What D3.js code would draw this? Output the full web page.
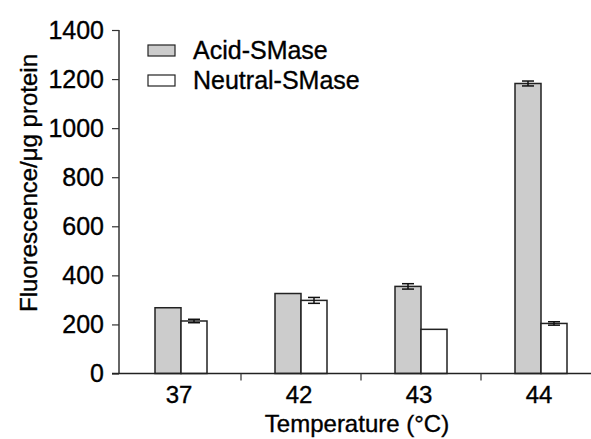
<!DOCTYPE html>
<html>
<head>
<meta charset="utf-8">
<script src="https://cdn.jsdelivr.net/npm/d3@7"></script>
<style>
	body { margin: 0; background: #fff; }
	text { font-family: "Liberation Sans", Arial, sans-serif; fill: #000; stroke: #000; stroke-width: 0.35px; }
</style>
</head>
<body>
<svg id="chart"></svg>
<script>
// Data
const temperatures = ["37", "42", "43", "44"];
const seriesNames = ["Acid-SMase", "Neutral-SMase"];
const acidValues = [268, 326, 355, 1182];
const acidErrors = [0, 0, 11, 10];
const neutralValues = [214, 298, 180, 204];
const neutralErrors = [7, 12, 0, 7];
const yTicks = [0, 200, 400, 600, 800, 1000, 1200, 1400];

const width = 591;
const height = 439;
const fills = ["#cccccc", "#ffffff"];

const svg = d3.select("#chart").attr("width", width).attr("height", height);

// Scales
const x = d3.scaleBand().domain(temperatures).range([121, 601]);
const y = d3.scaleLinear().domain([0, 1400]).range([373.5, 30]);
const barWidth = 26;

const series = [
	{ name: seriesNames[0], values: acidValues, errors: acidErrors, fill: fills[0] },
	{ name: seriesNames[1], values: neutralValues, errors: neutralErrors, fill: fills[1] },
];

// Bars
series.forEach((s, si) => {
	const bx = (i) => x(temperatures[i]) + x.bandwidth() / 2 - barWidth + si * barWidth;
	svg.append("g")
		.selectAll("rect")
		.data(s.values)
		.enter()
		.append("rect")
		.attr("x", (d, i) => bx(i))
		.attr("y", (d) => y(d))
		.attr("width", barWidth)
		.attr("height", (d) => y(0) - y(d))
		.attr("fill", s.fill)
		.attr("stroke", "#222")
		.attr("stroke-width", 1.5);

	// Error bars
	const eb = svg.append("g").attr("stroke", "#111").attr("stroke-width", 1.5);
	s.values.forEach((v, i) => {
		const e = s.errors[i];
		if (!e) return;
		const cx = bx(i) + barWidth / 2;
		eb.append("line").attr("x1", cx).attr("x2", cx).attr("y1", y(v + e)).attr("y2", y(v - e));
		[v + e, v - e].forEach((val) => {
			eb.append("line")
				.attr("x1", cx - 6).attr("x2", cx + 6)
				.attr("y1", y(val)).attr("y2", y(val));
		});
	});
});

// Y axis
const yAxis = svg.append("g")
	.attr("transform", "translate(119,0)")
	.call(d3.axisLeft(y).tickValues(yTicks).tickSize(7).tickPadding(8).tickFormat(d3.format("d")));
yAxis.select(".domain").attr("stroke", "#333").attr("stroke-width", 1.5).attr("d", `M0,${y(1400)}V${y(0)}`);
yAxis.selectAll(".tick line").attr("stroke", "#333").attr("stroke-width", 1.2);
yAxis.selectAll(".tick text").attr("font-size", 25).attr("font-family", "Liberation Sans, Arial, sans-serif");

// X axis line + boundary ticks
const xAxis = svg.append("g");
xAxis.append("line")
	.attr("x1", 112).attr("x2", width)
	.attr("y1", y(0)).attr("y2", y(0))
	.attr("stroke", "#222").attr("stroke-width", 1.5);
xAxis.selectAll("line.sep")
	.data(temperatures.slice(1))
	.enter()
	.append("line")
	.attr("class", "sep")
	.attr("x1", (d) => x(d)).attr("x2", (d) => x(d))
	.attr("y1", y(0)).attr("y2", y(0) + 7)
	.attr("stroke", "#333").attr("stroke-width", 1.2);
xAxis.selectAll("text")
	.data(temperatures)
	.enter()
	.append("text")
	.attr("x", (d) => x(d) + x.bandwidth() / 2 - 2)
	.attr("y", 403)
	.attr("text-anchor", "middle")
	.attr("font-size", 24)
	.text((d) => d);

// Axis titles
svg.append("text")
	.attr("x", 357)
	.attr("y", 432)
	.attr("text-anchor", "middle")
	.attr("font-size", 24)
	.text("Temperature (°C)");

svg.append("text")
	.attr("transform", "translate(37,183) rotate(-90)")
	.attr("text-anchor", "middle")
	.attr("font-size", 24)
	.text("Fluorescence/μg protein");

// Legend
const legend = svg.append("g")
	.selectAll("g")
	.data(series)
	.enter()
	.append("g")
	.attr("transform", (d, i) => `translate(148,${45 + i * 30})`);
legend.append("rect")
	.attr("width", 27).attr("height", 11)
	.attr("fill", (d) => d.fill)
	.attr("stroke", "#222").attr("stroke-width", 1.2);
legend.append("text")
	.attr("x", 45).attr("y", 14)
	.attr("font-size", 25)
	.text((d) => d.name);
</script>
</body>
</html>
